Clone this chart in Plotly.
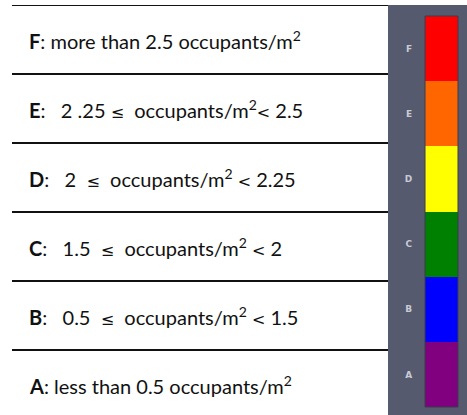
import plotly.graph_objects as go

W, H = 467, 415

# ---- data ----
LE = '<span style="font-family:DejaVu Sans;font-size:16px">\u2264</span>'
LT = '<span style="font-family:DejaVu Sans;font-size:16px">&lt;</span>'
levels = ["A", "B", "C", "D", "E", "F"]
level_colors = ["#800080", "#0000ff", "#008000", "#ffff00", "#ff6600", "#ff0000"]
segment_size = [1, 1, 1, 1, 1, 1]
descriptions = [
    "<b>A</b>: less than 0.5 occupants/m<sup>2</sup>",
    "<b>B</b>:\u00a0\u00a0\u00a00.5 \u00a0" + LE + "\u00a0 occupants/m<sup>2</sup> " + LT + " 1.5",
    "<b>C</b>:\u00a0\u00a0\u00a01.5 \u00a0" + LE + "\u00a0 occupants/m<sup>2</sup> " + LT + " 2",
    "<b>D</b>:\u00a0\u00a0\u00a02 \u00a0" + LE + "\u00a0 occupants/m<sup>2</sup> " + LT + " 2.25",
    "<b>E</b>:\u00a0\u00a0\u00a02 .25 " + LE + "\u00a0 occupants/m<sup>2</sup>" + LT + " 2.5",
    "<b>F</b>: more than 2.5 occupants/m<sup>2</sup>",
]

# ---- geometry (pixel -> paper) ----
def px(x):
    return x / W

def py(y):
    return 1 - y / H

panel_left = 388
bar_left, bar_right = 425, 458
bar_top, bar_bottom = 16, 407
table_top, row_h = 5, 69

fig = go.Figure()

# color bar: stacked bars
for lv, col, v in zip(levels, level_colors, segment_size):
    fig.add_trace(go.Bar(
        x=[0], y=[v], marker=dict(color=col, line=dict(width=0)),
        width=1, xaxis="x2", yaxis="y2", showlegend=False, hoverinfo="skip",
        name=lv,
    ))

# tick positions of letters = midpoints of stacked segments
cum = 0
mids = []
for v in segment_size:
    mids.append(cum + v / 2)
    cum += v

# table text (rows top to bottom: F..A)
n = len(levels)
for i, (lv, txt) in enumerate(zip(levels, descriptions)):
    row_from_top = n - 1 - i
    fig.add_annotation(
        x=0, y=row_from_top + 0.5, xref="x", yref="y",
        text=txt, showarrow=False, xanchor="left", yanchor="middle",
        font=dict(family="Lato", size=20, color="#111111"),
    )

shapes = []
# gray panel
shapes.append(dict(type="rect", xref="paper", yref="paper",
                   x0=px(panel_left), x1=1.0, y0=0, y1=py(table_top),
                   fillcolor="#555a6e", line=dict(width=0), layer="below"))
# bar border
shapes.append(dict(type="rect", xref="paper", yref="paper",
                   x0=px(bar_left), x1=px(bar_right), y0=py(bar_bottom), y1=py(bar_top),
                   fillcolor="rgba(0,0,0,0)", line=dict(width=1, color="#3a3d4c"), layer="above"))
# table lines
for k in range(n):
    shapes.append(dict(type="line", xref="paper", yref="y",
                       x0=px(12), x1=px(panel_left), y0=k, y1=k,
                       line=dict(color="#111111", width=2)))
fig.update_layout(shapes=shapes)

table_units = (H - table_top) / row_h

fig.update_layout(
    width=W, height=H,
    margin=dict(l=0, r=0, t=0, b=0),
    paper_bgcolor="white", plot_bgcolor="rgba(0,0,0,0)",
    barmode="stack", bargap=0,
    xaxis=dict(domain=[px(27), px(panel_left)], range=[0, 1], visible=False, fixedrange=True),
    yaxis=dict(domain=[0, py(table_top)], range=[table_units, 0], visible=False, fixedrange=True),
    xaxis2=dict(domain=[px(bar_left), px(bar_right)], range=[-0.5, 0.5], visible=False,
                anchor="y2", fixedrange=True),
    yaxis2=dict(domain=[py(bar_bottom), py(bar_top)], range=[0, cum], anchor="x2",
                tickvals=mids, ticktext=["<b>%s</b>" % l for l in levels],
                tickfont=dict(family="DejaVu Sans", size=9, color="#c9cbd4"),
                showgrid=False, zeroline=False, showline=False,
                ticks="outside", ticklen=10, tickcolor="rgba(0,0,0,0)", fixedrange=True),
    showlegend=False,
)

fig.write_html("out.html", config={"displayModeBar": False},
               post_script="document.body.style.margin='0px';document.body.style.padding='0px';document.body.style.overflow='hidden';")
